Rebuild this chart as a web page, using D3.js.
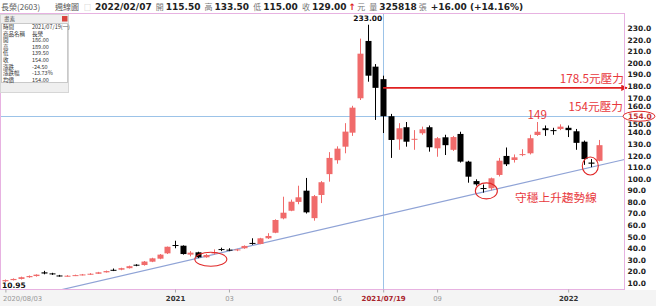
<!DOCTYPE html>
<html>
<head>
<meta charset="utf-8">
<script src="https://cdn.jsdelivr.net/npm/d3@7"></script>
<style>
  body { margin: 0; background: #fff; }
  svg { display: block; }
</style>
</head>
<body>
<svg id="chart" width="656" height="306"></svg>
<script>
// weekly candles, 長榮(2603)
const weeks = [
  "2020/08/03","2020/08/10","2020/08/17","2020/08/24","2020/08/31","2020/09/07","2020/09/14","2020/09/21",
  "2020/09/28","2020/10/05","2020/10/12","2020/10/19","2020/10/26","2020/11/02","2020/11/09","2020/11/16",
  "2020/11/23","2020/11/30","2020/12/07","2020/12/14","2020/12/21","2020/12/28","2021/01/04","2021/01/11",
  "2021/01/18","2021/01/25","2021/02/01","2021/02/15","2021/02/22","2021/03/01","2021/03/08","2021/03/15",
  "2021/03/22","2021/03/29","2021/04/05","2021/04/12","2021/04/19","2021/04/26","2021/05/03","2021/05/10",
  "2021/05/17","2021/05/24","2021/05/31","2021/06/07","2021/06/14","2021/06/21","2021/06/28","2021/07/05",
  "2021/07/12","2021/07/19","2021/07/26","2021/08/02","2021/08/09","2021/08/16","2021/08/23","2021/08/30",
  "2021/09/06","2021/09/13","2021/09/20","2021/09/27","2021/10/04","2021/10/11","2021/10/18","2021/10/25",
  "2021/11/01","2021/11/08","2021/11/15","2021/11/22","2021/11/29","2021/12/06","2021/12/13","2021/12/20",
  "2021/12/27","2022/01/03","2022/01/10","2022/01/17","2022/01/24","2022/02/07"
];
const opens = [
  11.5, 12.5, 13.5, 15.0, 16.0, 19.2, 18.3, 16.5, 15.8, 16.3, 16.8, 17.4, 18.0, 19.2, 21.4, 21.5,
  22.8, 25.8, 25.5, 28.4, 31.0, 35.6, 42.8, 42.2, 34.5, 36.5, 32.2, 35.5, 39.3, 38.8, 38.5, 40.0,
  44.6, 43.7, 48.6, 53.4, 65.8, 72.4, 80.0, 89.7, 66.0, 86.0, 104.0, 116.0, 127.7, 139.8, 169.5, 219.0,
  196.8, 186.0, 154.0, 134.0, 144.5, 134.0, 139.3, 144.5, 126.3, 135.8, 125.0, 138.7, 114.8, 98.0, 92.0, 91.8,
  103.3, 119.7, 116.2, 120.5, 122.0, 137.8, 143.6, 142.0, 143.0, 144.0, 141.0, 132.0, 114.0, 115.5
];
const highs = [
  13.0, 14.0, 15.5, 16.5, 17.5, 20.5, 18.8, 17.0, 16.8, 17.2, 17.8, 18.5, 19.6, 20.7, 22.5, 23.2,
  25.0, 26.2, 29.0, 31.8, 35.0, 41.5, 46.5, 42.5, 37.5, 37.0, 35.0, 39.0, 40.5, 40.0, 39.5, 42.5,
  48.6, 49.0, 53.0, 65.0, 84.5, 82.0, 94.0, 100.7, 86.0, 98.0, 123.0, 128.0, 148.0, 163.0, 221.0, 233.0,
  199.0, 189.0, 156.0, 148.0, 149.0, 142.0, 145.0, 146.0, 136.0, 138.0, 137.0, 140.6, 115.5, 99.5, 95.0, 101.0,
  118.0, 127.0, 121.0, 125.5, 138.0, 149.0, 146.0, 144.0, 147.0, 146.0, 143.0, 133.0, 117.0, 133.5
];
const lows = [
  10.95, 12.2, 13.0, 14.5, 15.5, 17.5, 17.0, 15.5, 15.5, 16.0, 16.5, 17.0, 17.8, 19.0, 20.3, 21.0,
  22.5, 24.5, 25.0, 28.0, 30.5, 35.0, 40.0, 34.5, 33.0, 31.5, 31.8, 34.5, 37.5, 37.5, 37.5, 39.5,
  43.0, 43.5, 48.0, 53.0, 65.0, 72.0, 78.0, 70.0, 63.8, 79.0, 97.5, 113.0, 122.0, 137.0, 168.0, 183.8,
  150.8, 139.5, 118.0, 125.0, 127.7, 125.0, 138.0, 123.4, 119.0, 120.5, 124.0, 114.0, 96.6, 94.0, 88.0, 90.0,
  102.0, 111.0, 114.0, 119.5, 121.0, 137.0, 137.0, 138.0, 142.0, 136.0, 125.0, 112.0, 110.0, 115.0
];
const closes = [
  12.5, 13.5, 15.0, 16.0, 17.2, 18.2, 17.5, 16.0, 16.3, 16.8, 17.4, 18.0, 19.2, 20.3, 21.0, 22.8,
  24.5, 25.3, 28.5, 31.3, 34.5, 41.3, 42.0, 35.0, 36.2, 32.2, 34.2, 36.5, 39.0, 38.4, 39.0, 42.0,
  44.1, 48.6, 50.6, 64.4, 70.7, 80.2, 84.0, 71.0, 85.0, 97.0, 118.0, 126.0, 140.7, 161.4, 208.0, 189.0,
  178.5, 154.0, 133.5, 143.6, 132.0, 134.5, 142.7, 127.2, 135.0, 129.0, 136.0, 114.8, 101.8, 95.2, 91.8, 100.4,
  115.6, 112.5, 118.5, 121.3, 135.0, 140.6, 142.0, 141.3, 145.0, 142.0, 131.0, 117.0, 113.0, 129.0
];
const volume = 325818;

const yTicks = [10, 20, 30, 40, 50, 60, 70, 80, 90, 100, 110, 120, 130, 140, 150, 160, 170, 180, 190, 200, 210, 220, 230];
const xTickWeeks = ["2020/08/03", "2021/01/04", "2021/03/01", "2021/06/07", "2021/07/19", "2021/09/06", "2022/01/03"];
const xTickLabels = ["2020/08/03", "2021", "03", "06", "2021/07/19", "09", "2022"];

const infoLabels = ["時間", "商品名稱", "開", "高", "低", "收", "漲跌", "漲跌幅", "均價"];
const infoValues = ["2021/07/19(一)", "長榮", "186.00", "189.00", "139.50", "154.00", "-24.50", "-13.73%", "154.00"];

// support / resistance levels and trend anchors (week, price)
const resist1 = 178.5;
const resist2 = 154;
const peakLabel = 149;
const trendAnchors = [["2021/01/25", 31.5], ["2022/01/24", 110]];
const circledWeeks = [["2021/02/01", 30.5], ["2021/10/18", 89.5], ["2022/01/24", 111]];

const RED = "#f06b6b", RED_TXT = "#e8383d", PINK = "#e7b2e1", BLUE = "#9cc3e8";
const NUM = "'DejaVu Sans', Verdana, sans-serif";
const CJK = "'Noto Sans CJK TC', 'Noto Sans', sans-serif";

const svg = d3.select("#chart");
const plot = { left: 0.5, right: 624.5, top: 13.5, bottom: 289.5 };

const x = d3.scalePoint().domain(weeks).range([5.4, 599]);
const y = d3.scaleLinear().domain([10, 230]).range([283, 28.2]);

const candles = weeks.map((w, i) => ({ w, o: opens[i], h: highs[i], l: lows[i], c: closes[i] }));

// bottom axis band
svg.append("rect").attr("x", 0).attr("y", 290).attr("width", 656).attr("height", 16).attr("fill", "#f4f4f4");

svg.append("defs").append("clipPath").attr("id", "clip")
  .append("rect").attr("x", plot.left).attr("y", plot.top)
  .attr("width", plot.right - plot.left).attr("height", plot.bottom - plot.top);

const g = svg.append("g").attr("clip-path", "url(#clip)");

// crosshair at 2021/07/19 and the 154 line
g.append("line").attr("x1", plot.left).attr("x2", plot.right)
  .attr("y1", Math.round(y(resist2)) + 0.5).attr("y2", Math.round(y(resist2)) + 0.5)
  .attr("stroke", BLUE).attr("stroke-width", 1);
g.append("line").attr("x1", Math.round(x("2021/07/19")) + 0.5).attr("x2", Math.round(x("2021/07/19")) + 0.5)
  .attr("y1", plot.top).attr("y2", plot.bottom)
  .attr("stroke", BLUE).attr("stroke-width", 1);

// rising trend line, extended across the plot
const [p1, p2] = trendAnchors.map(d => [x(d[0]), y(d[1])]);
const slope = (p2[1] - p1[1]) / (p2[0] - p1[0]);
const tx0 = p1[0] + (plot.bottom + 2 - p1[1]) / slope;
g.append("line")
  .attr("x1", tx0).attr("y1", p1[1] + slope * (tx0 - p1[0]))
  .attr("x2", plot.right).attr("y2", p1[1] + slope * (plot.right - p1[0]))
  .attr("stroke", "#8fa3d6").attr("stroke-width", 1.2);

// candles
const bw = 6;
const cg = g.selectAll("g.candle").data(candles).enter().append("g").attr("class", "candle");
cg.append("line")
  .attr("x1", d => Math.round(x(d.w)) + 0.5).attr("x2", d => Math.round(x(d.w)) + 0.5)
  .attr("y1", d => y(d.h)).attr("y2", d => y(d.l))
  .attr("stroke", d => d.c >= d.o ? RED : "#000").attr("stroke-width", 1);
cg.append("rect")
  .attr("x", d => Math.round(x(d.w)) + 0.5 - bw / 2)
  .attr("width", bw)
  .attr("y", d => y(Math.max(d.o, d.c)))
  .attr("height", d => Math.max(1, Math.abs(y(d.o) - y(d.c))))
  .attr("fill", d => d.c >= d.o ? RED : "#000");

// 178.5 resistance arrow
svg.append("defs").append("marker").attr("id", "arrow")
  .attr("viewBox", "0 0 10 10").attr("refX", 9).attr("refY", 5)
  .attr("markerWidth", 4).attr("markerHeight", 4).attr("orient", "auto")
  .append("path").attr("d", "M0,0L10,5L0,10z").attr("fill", "#e02020");
svg.append("line").attr("x1", x("2021/07/19")).attr("x2", 627)
  .attr("y1", y(resist1)).attr("y2", y(resist1))
  .attr("stroke", "#e02020").attr("stroke-width", 1.6).attr("marker-end", "url(#arrow)");

// circled lows
const rx = [16, 11, 8], ry = [7, 8, 9];
svg.selectAll("ellipse.mark").data(circledWeeks).enter().append("ellipse").attr("class", "mark")
  .attr("cx", (d, i) => x(d[0]) + [5, 3, -1][i]).attr("cy", d => y(d[1]))
  .attr("rx", (d, i) => rx[i]).attr("ry", (d, i) => ry[i])
  .attr("fill", "none").attr("stroke", "#e02828").attr("stroke-width", 1.1);

// frame
svg.append("rect").attr("x", plot.left).attr("y", plot.top)
  .attr("width", plot.right - plot.left).attr("height", plot.bottom - plot.top)
  .attr("fill", "none").attr("stroke", PINK);

// right axis (the 150/160 labels nudged clear of the 154 marker)
const yAxis = svg.append("g").attr("transform", `translate(${plot.right},0)`)
  .call(d3.axisRight(y).tickValues(yTicks).tickFormat(d3.format(".1f")).tickSize(0).tickPadding(3));
yAxis.select(".domain").remove();
yAxis.selectAll("text").attr("font-family", NUM).attr("font-size", 7.5).attr("font-weight", "bold").attr("fill", "#222");
yAxis.selectAll(".tick").filter(d => Math.abs(d - resist2) < 7).select("text")
  .attr("dy", d => d > resist2 ? "-0.12em" : "0.75em");

// 154 label on the axis
svg.append("ellipse").attr("cx", 639).attr("cy", y(resist2)).attr("rx", 16).attr("ry", 5)
  .attr("fill", "#fff").attr("stroke", "#e02828").attr("stroke-width", 1);
svg.append("text").attr("x", 628).attr("y", y(resist2)).attr("dy", "0.35em")
  .attr("font-family", NUM).attr("font-size", 7.5).attr("font-weight", "bold").attr("fill", "#c0302f")
  .text(d3.format(".1f")(resist2));

// bottom axis
const xAxis = svg.append("g").attr("transform", `translate(0,${plot.bottom})`)
  .call(d3.axisBottom(x).tickValues(xTickWeeks).tickFormat((d, i) => xTickLabels[i]).tickSize(3).tickPadding(4));
xAxis.select(".domain").remove();
xAxis.selectAll("line").attr("stroke", "#aaa");
xAxis.selectAll("text")
  .attr("font-family", NUM)
  .attr("font-size", (d, i) => [1, 4, 6].includes(i) ? 7 : 6.8)
  .attr("font-weight", (d, i) => [1, 4, 6].includes(i) ? "bold" : "normal")
  .attr("fill", (d, i) => i === 4 ? "#a8242c" : ([1, 6].includes(i) ? "#333" : "#999"))
  .attr("text-anchor", (d, i) => i === 0 ? "start" : "middle")
  .attr("dx", (d, i) => i === 0 ? -3 : 0);

// price extremes
const hiIdx = d3.maxIndex(highs), loIdx = d3.minIndex(lows);
svg.append("text").attr("x", x(weeks[hiIdx])).attr("y", 21).attr("text-anchor", "middle")
  .attr("font-family", NUM).attr("font-size", 7.5).attr("font-weight", "bold").attr("fill", "#111")
  .text(d3.format(".2f")(highs[hiIdx]));
svg.append("text").attr("x", 2).attr("y", 288)
  .attr("font-family", NUM).attr("font-size", 7.5).attr("font-weight", "bold").attr("fill", "#111")
  .text(d3.format(".2f")(lows[loIdx]));

// red annotations
const note = (tx, ty, anchor, s) => svg.append("text").attr("x", tx).attr("y", ty)
  .attr("text-anchor", anchor).attr("font-family", CJK).attr("font-size", 11.7)
  .attr("fill", RED_TXT).text(s);
note(624, y(resist1) - 5, "end", `${resist1}元壓力`);
note(623, y(resist2) - 5, "end", `${resist2}元壓力`);
note(x("2021/12/06"), 119, "middle", `${peakLabel}`);
note(556, 202, "middle", "守穩上升趨勢線");

// info popup
const info = svg.append("g");
info.append("rect").attr("x", 0.5).attr("y", 14.5).attr("width", 68).attr("height", 78)
  .attr("fill", "#efefef").attr("stroke", "#d6d6d6");
info.append("rect").attr("x", 1.5).attr("y", 23.5).attr("width", 66).attr("height", 59)
  .attr("fill", "#fff").attr("stroke", "#c9c9c9");
info.append("text").attr("x", 4).attr("y", 21).attr("font-family", CJK).attr("font-size", 5.5)
  .attr("fill", "#555").text("畫素");
info.append("rect").attr("x", 62).attr("y", 16).attr("width", 5.5).attr("height", 5.5).attr("fill", "#d9443f");
info.selectAll("text.lab").data(infoLabels).enter().append("text").attr("class", "lab")
  .attr("x", 3).attr("y", (d, i) => 29 + i * 6.6)
  .attr("font-family", CJK).attr("font-size", 5.5).attr("fill", "#333").text(d => d);
info.selectAll("text.val").data(infoValues).enter().append("text").attr("class", "val")
  .attr("x", 32).attr("y", (d, i) => 29 + i * 6.6)
  .attr("font-family", CJK).attr("font-size", 5.5).attr("fill", "#333").text(d => d);

// header line, laid out left to right
const last = candles[candles.length - 1];
const prev = candles[candles.length - 2];
const chg = last.c - prev.c;
const head = svg.append("g");
const lab = { cjk: true, size: 8, fill: "#777" };
const val = { bold: true, size: 9 };
const headItems = [
  ["長榮(2603)", { cjk: true, size: 8, fill: "#555" }, 1],
  ["週線圖", { cjk: true, size: 8, fill: "#555" }, 55],
  ["□", { cjk: true, size: 7, fill: "#bbb" }, 84],
  [weeks[weeks.length - 1], val, 95],
  ["開", lab, 4], [last.o.toFixed(2), val, 2],
  ["高", lab, 4], [last.h.toFixed(2), val, 2],
  ["低", lab, 4], [last.l.toFixed(2), val, 2],
  ["收", lab, 4], [last.c.toFixed(2), val, 2],
  ["↑", { bold: true, size: 9, fill: "#d22" }, 2],
  ["元", lab, 1],
  ["量", lab, 4], [String(volume), val, 2],
  ["張", lab, 2],
  [`+${chg.toFixed(2)} (+${(chg / prev.c * 100).toFixed(2)}%)`, val, 4]
];
let hx = 0;
headItems.forEach(([s, opt, pos], i) => {
  const startX = i < 4 ? pos : hx + pos;
  const t = head.append("text").attr("x", startX).attr("y", 10)
    .attr("font-family", opt.cjk ? CJK : NUM).attr("font-size", opt.size)
    .attr("font-weight", opt.bold ? "bold" : "normal").attr("fill", opt.fill || "#222").text(s);
  hx = startX + t.node().getComputedTextLength();
});
</script>
</body>
</html>
